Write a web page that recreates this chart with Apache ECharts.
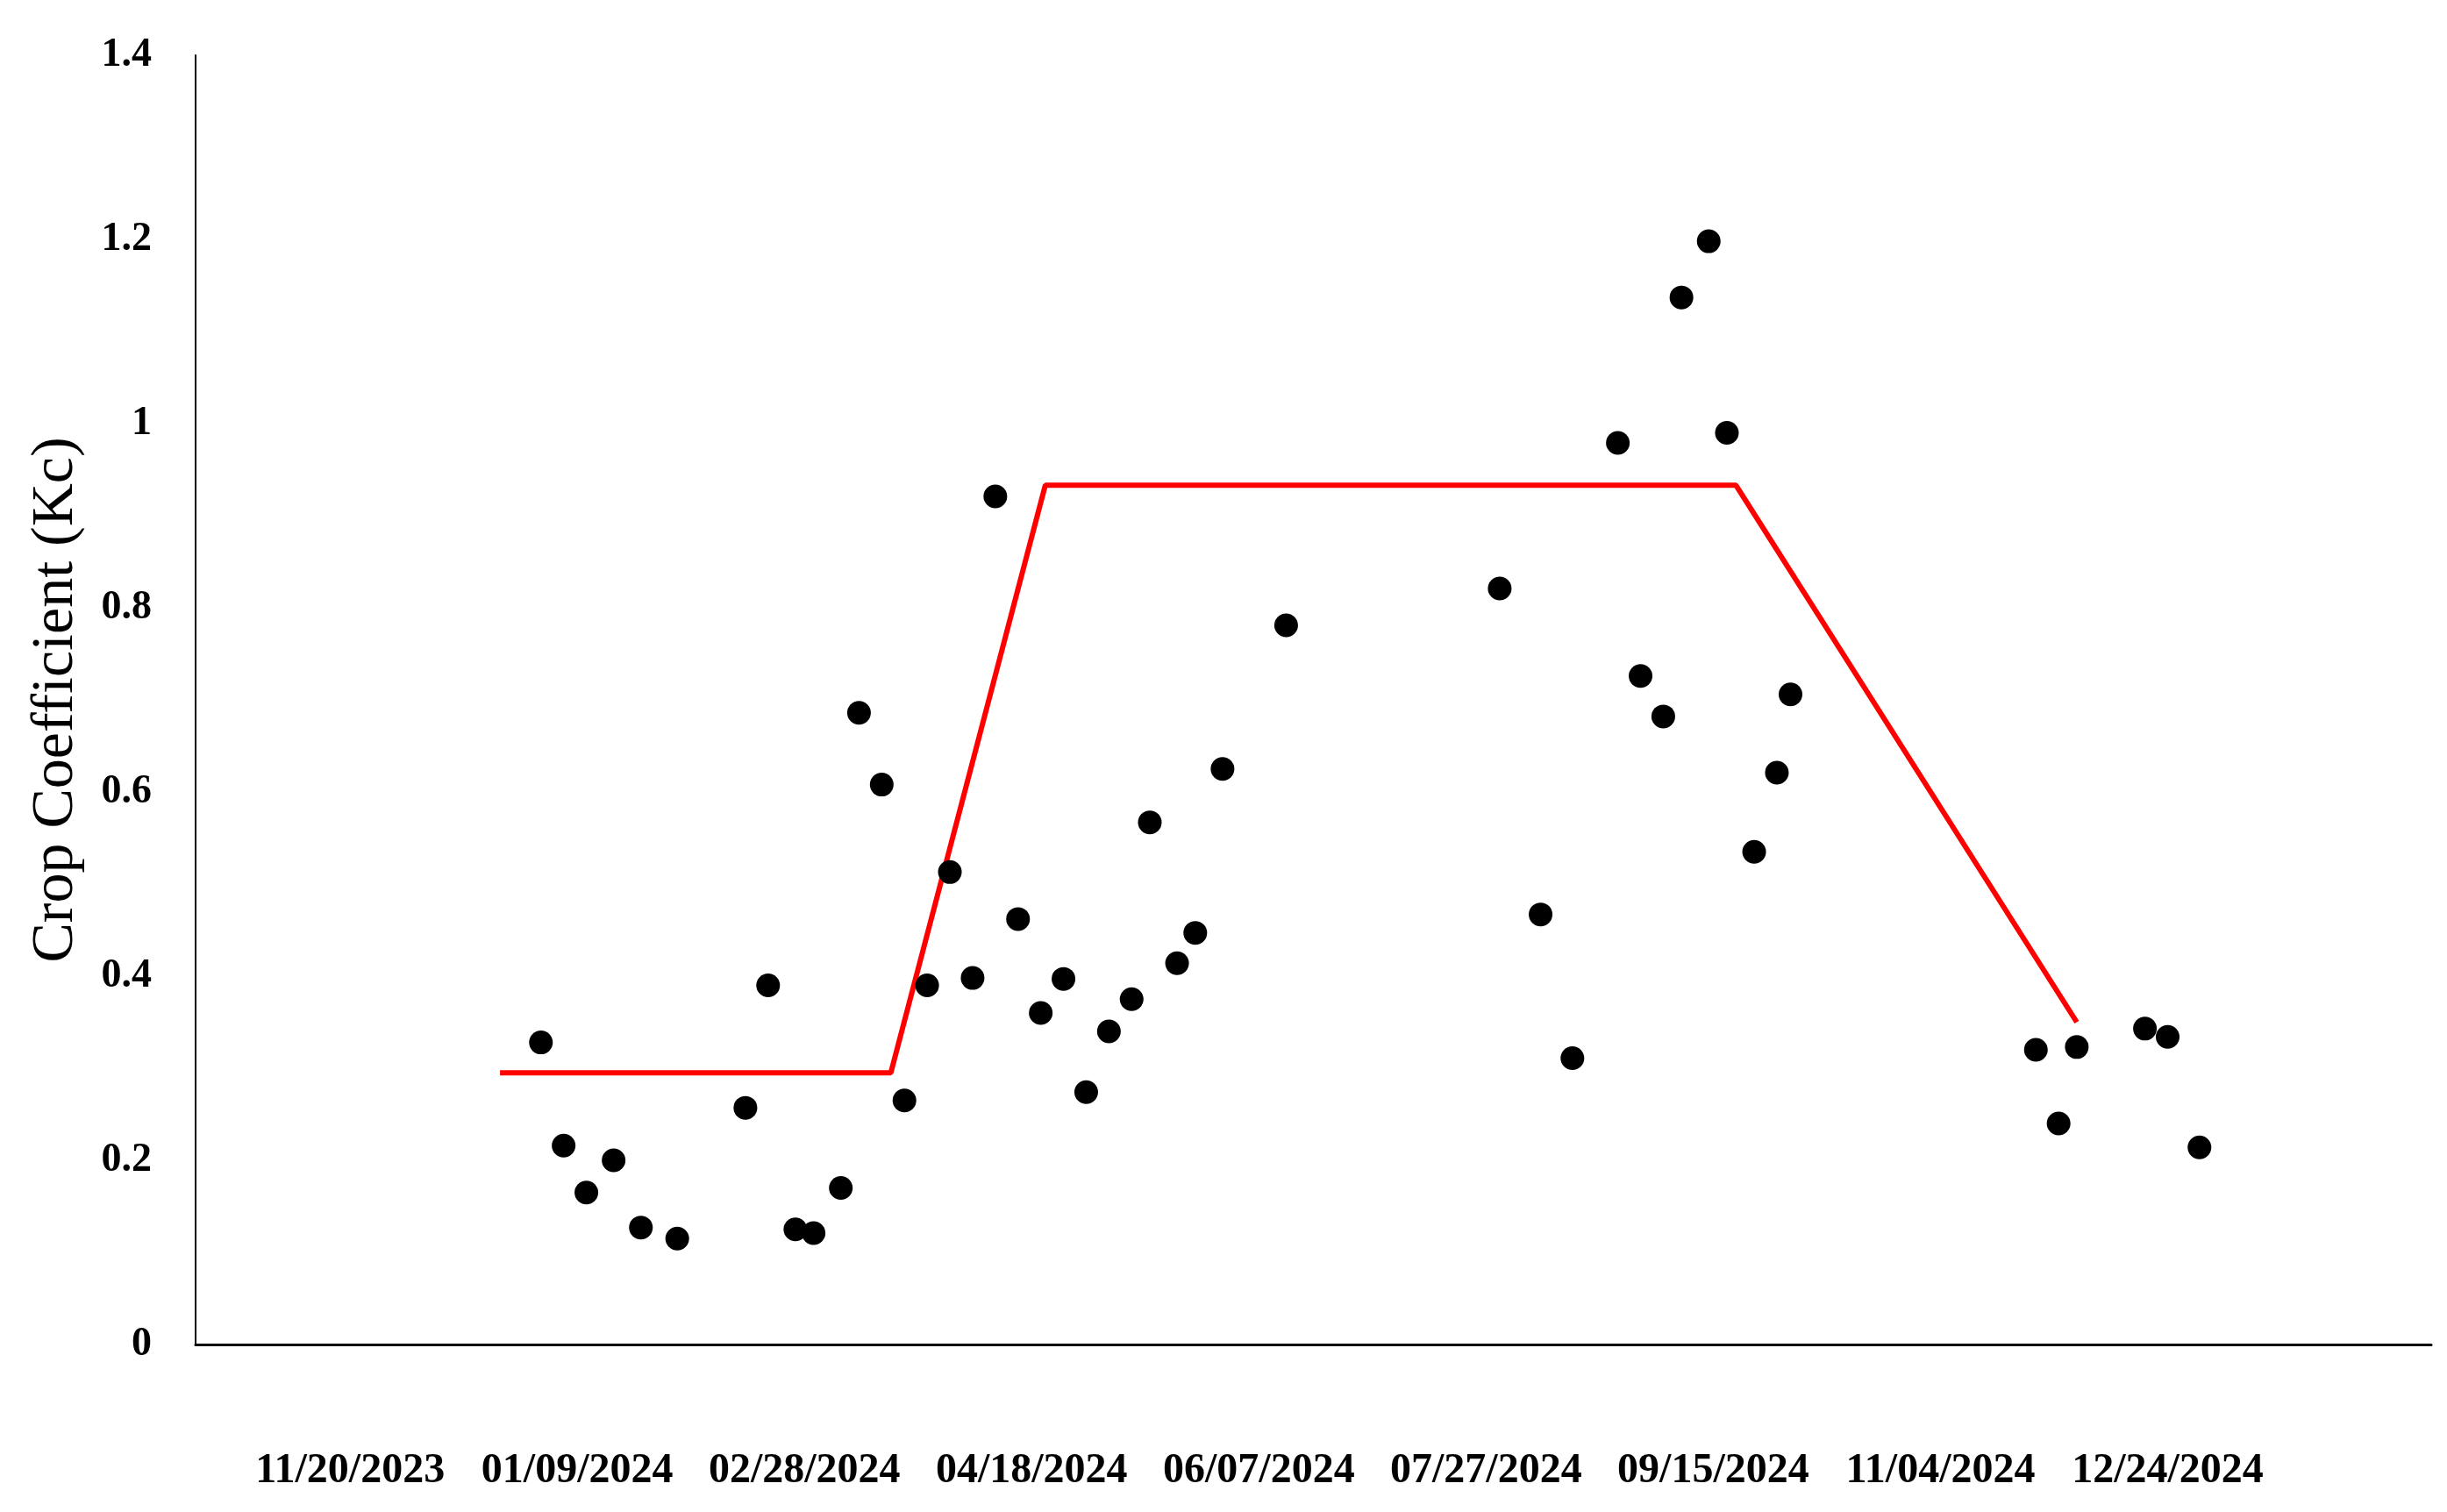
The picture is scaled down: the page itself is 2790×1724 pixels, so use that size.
<!DOCTYPE html>
<html lang="en">
<head>
    <meta charset="UTF-8">
    <title>Crop Coefficient (Kc)</title>
    <script src="https://cdn.jsdelivr.net/npm/echarts@6.0.0/dist/echarts.min.js"></script>
    <style>
        html, body { margin: 0; padding: 0; background: #fff; }
        #main { width: 2790px; height: 1724px; }
    </style>
</head>
<body>
<div id="main"></div>
<script type="text/javascript">
    // observed Kc (dots)
    var obsDates = [
        '2024-01-01', '2024-01-06', '2024-01-11', '2024-01-17', '2024-01-23', '2024-01-31',
        '2024-02-15', '2024-02-20', '2024-02-26', '2024-03-01', '2024-03-07', '2024-03-11',
        '2024-03-16', '2024-03-21', '2024-03-26', '2024-03-31', '2024-04-05', '2024-04-10',
        '2024-04-15', '2024-04-20', '2024-04-25', '2024-04-30', '2024-05-05', '2024-05-10',
        '2024-05-14', '2024-05-20', '2024-05-24', '2024-05-30', '2024-06-13', '2024-07-30',
        '2024-08-08', '2024-08-15', '2024-08-25', '2024-08-30', '2024-09-04', '2024-09-08',
        '2024-09-14', '2024-09-18', '2024-09-24', '2024-09-29', '2024-10-02', '2024-11-25',
        '2024-11-30', '2024-12-04', '2024-12-19', '2024-12-24', '2024-12-31'
    ];
    var obsKc = [
        0.328, 0.216, 0.165, 0.200, 0.127, 0.115,
        0.257, 0.390, 0.125, 0.121, 0.170, 0.686,
        0.608, 0.265, 0.390, 0.513, 0.398, 0.921,
        0.462, 0.360, 0.397, 0.274, 0.340, 0.375,
        0.567, 0.414, 0.447, 0.625, 0.781, 0.821,
        0.467, 0.311, 0.979, 0.726, 0.682, 1.137,
        1.198, 0.990, 0.535, 0.621, 0.706, 0.320,
        0.240, 0.323, 0.343, 0.334, 0.214
    ];

    // FAO-56 style Kc curve (red line)
    var curveDates = ['2023-12-23', '2024-03-18', '2024-04-21', '2024-09-20', '2024-12-04'];
    var curveKc = [0.295, 0.295, 0.933, 0.933, 0.35];

    // x axis labels and range
    var tickDates = ['2023-11-20', '2024-01-09', '2024-02-28', '2024-04-18', '2024-06-07',
        '2024-07-27', '2024-09-15', '2024-11-04', '2024-12-24'];
    var axisStart = '2023-10-17';
    var axisEnd = '2025-02-20';

    function dayNum(s) {
        var p = s.split('-');
        return Date.UTC(+p[0], +p[1] - 1, +p[2]) / 86400000;
    }
    function fmtDay(d) {
        var t = new Date(Math.round(d) * 86400000);
        var mm = ('0' + (t.getUTCMonth() + 1)).slice(-2);
        var dd = ('0' + t.getUTCDate()).slice(-2);
        return mm + '/' + dd + '/' + t.getUTCFullYear();
    }

    var obsData = obsDates.map(function (d, i) { return [dayNum(d), obsKc[i]]; });
    var curveData = curveDates.map(function (d, i) { return [dayNum(d), curveKc[i]]; });

    var myChart = echarts.init(document.getElementById('main'));
    var option = {
        animation: false,
        backgroundColor: '#fff',
        grid: { left: 223, right: 18, top: 63, bottom: 191 },
        xAxis: {
            type: 'value',
            min: dayNum(axisStart),
            max: dayNum(axisEnd),
            splitLine: { show: false },
            axisTick: { show: false },
            axisLine: { show: true, onZero: false, lineStyle: { color: '#000', width: 3 } },
            axisLabel: {
                customValues: tickDates.map(dayNum),
                formatter: fmtDay,
                margin: 121,
                color: '#000',
                fontFamily: 'Liberation Serif',
                fontWeight: 'bold',
                fontSize: 48
            }
        },
        yAxis: {
            type: 'value',
            min: 0,
            max: 1.4,
            interval: 0.2,
            name: 'Crop Coefficient (Kc)',
            nameLocation: 'middle',
            nameGap: 125,
            nameTextStyle: { color: '#000', fontFamily: 'Liberation Serif', fontSize: 68 },
            splitLine: { show: false },
            axisTick: { show: false },
            axisLine: { show: true, lineStyle: { color: '#000', width: 2 } },
            axisLabel: {
                margin: 50,
                color: '#000',
                fontFamily: 'Liberation Serif',
                fontWeight: 'bold',
                fontSize: 46
            }
        },
        series: [
            {
                name: 'Kc curve',
                type: 'line',
                data: curveData,
                showSymbol: false,
                symbol: 'none',
                lineStyle: { color: '#ff0000', width: 6 },
                z: 2
            },
            {
                name: 'Observed Kc',
                type: 'scatter',
                data: obsData,
                symbolSize: 27,
                itemStyle: { color: '#000', opacity: 1 },
                z: 3
            }
        ]
    };
    myChart.setOption(option);
</script>
</body>
</html>
